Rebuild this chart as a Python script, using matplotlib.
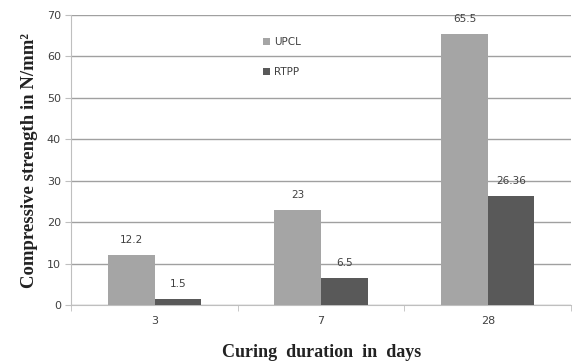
import matplotlib.pyplot as plt
import numpy as np

categories = ["3", "7", "28"]
upcl = [12.2, 23, 65.5]
rtpp = [1.5, 6.5, 26.36]
upcl_labels = ["12.2", "23", "65.5"]
rtpp_labels = ["1.5", "6.5", "26.36"]

fig = plt.figure(figsize=(5.74, 3.62), dpi=100)
ax = fig.add_axes([0.124, 0.157, 0.871, 0.802])

x = np.arange(len(categories))
w = 0.28
b1 = ax.bar(x - w/2, upcl, w, color="#a5a5a5", label="UPCL", zorder=3)
b2 = ax.bar(x + w/2, rtpp, w, color="#595959", label="RTPP", zorder=3)

for rect, lab in zip(b1, upcl_labels):
    ax.text(rect.get_x() + rect.get_width()/2, rect.get_height() + 3.6, lab,
            ha="center", va="center", fontsize=7.5, color="#404040")
for rect, lab in zip(b2, rtpp_labels):
    ax.text(rect.get_x() + rect.get_width()/2, rect.get_height() + 3.6, lab,
            ha="center", va="center", fontsize=7.5, color="#404040")

ax.set_xlim(-0.5, len(categories) - 0.5)
ax.set_ylim(0, 70)
ax.set_yticks(range(0, 71, 10))
ax.set_xticks(x)
ax.set_xticklabels(categories)
ax.set_xticks(np.arange(-0.5, len(categories)), minor=True)
ax.tick_params(axis="x", which="major", length=0, labelsize=8, colors="#404040", pad=8)
ax.tick_params(axis="x", which="minor", length=4, color="#bfbfbf")
ax.tick_params(axis="y", labelsize=8, colors="#404040", length=4, color="#bfbfbf")

ax.grid(axis="y", color="#a0a0a0", linewidth=1.0, zorder=0)
for s in ["top", "right"]:
    ax.spines[s].set_visible(False)
ax.spines["left"].set_color("#bfbfbf")
ax.spines["bottom"].set_color("#bfbfbf")

ax.set_ylabel("Compressive strength in N/mm\u00b2", family="Liberation Serif",
              fontsize=13.5, fontweight="bold", color="#222222", labelpad=6)
ax.set_xlabel("Curing  duration  in  days", family="Liberation Serif",
              fontsize=13, fontweight="bold", color="#222222", labelpad=13)

leg = ax.legend(loc="upper left", bbox_to_anchor=(0.365, 0.955), frameon=False,
                fontsize=7.5, handlelength=0.7, handleheight=0.7,
                labelspacing=1.9, handletextpad=0.4)
for t in leg.get_texts():
    t.set_color("#404040")

fig.savefig("out.png", dpi=100)
